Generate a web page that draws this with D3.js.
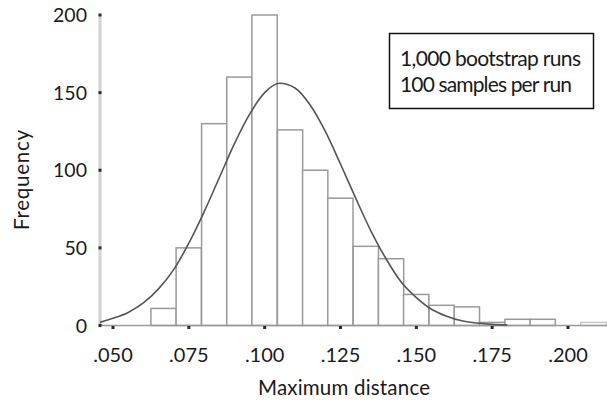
<!DOCTYPE html>
<html>
<head>
<meta charset="utf-8">
<script src="https://cdn.jsdelivr.net/npm/d3@7"></script>
<style>
  body { margin: 0; background: #fff; }
  svg text { font-family: Lato, "Noto Sans", sans-serif; fill: #1a1a1a; }
</style>
</head>
<body>
<svg id="chart" width="607" height="400"></svg>
<script>
// histogram bins (lower edges) and counts
const binStarts = [0.0625, 0.0708, 0.0792, 0.0875, 0.0958, 0.1042, 0.1125, 0.1208, 0.1292,
                   0.1375, 0.1458, 0.1542, 0.1625, 0.1708, 0.1792, 0.1875, 0.1958, 0.2042];
const binWidth = 0.00833;
const counts = [11, 50, 130, 160, 200, 126, 100, 82, 51, 43, 20, 13, 12, 2, 4, 4, 0, 2];

// fitted curve
const curveX = [0.0457, 0.050, 0.055, 0.060, 0.065, 0.070, 0.075, 0.080, 0.085, 0.090, 0.095,
                0.100, 0.105, 0.110, 0.115, 0.120, 0.125, 0.130, 0.135, 0.140, 0.145, 0.150,
                0.155, 0.160, 0.165, 0.170, 0.175, 0.180];
const curveY = [2, 4.6, 8.4, 14.5, 23.6, 36, 53, 73, 95, 117, 136,
                150, 156, 153, 142, 125, 104, 82, 61, 43, 28, 18,
                10.5, 6, 3, 1.6, 0.7, 0.3];

const xTicks = [0.050, 0.075, 0.100, 0.125, 0.150, 0.175, 0.200];
const yTicks = [0, 50, 100, 150, 200];
const legendLines = ["1,000 bootstrap runs", "100 samples per run"];

const svg = d3.select("#chart");

const x = d3.scaleLinear().domain([0.05, 0.2]).range([113, 568]);
const y = d3.scaleLinear().domain([0, 200]).range([325.5, 15]);
const xLeft = 100, xRight = 607;

// y axis line (light, thick)
svg.append("line")
    .attr("x1", xLeft).attr("x2", xLeft)
    .attr("y1", y(200)).attr("y2", y(0))
    .attr("stroke", "#d2d2d2").attr("stroke-width", 3);

// bars
svg.selectAll("rect.bar")
    .data(counts)
    .enter().append("rect")
    .attr("class", "bar")
    .attr("x", (d, i) => x(binStarts[i]))
    .attr("y", d => y(d))
    .attr("width", (d, i) => x(binStarts[i] + binWidth) - x(binStarts[i]))
    .attr("height", d => y(0) - y(d))
    .attr("fill", "#fff")
    .attr("stroke", (d, i) => i == counts.length - 1 ? "#c8c8c8" : "#9a9a9a")
    .attr("stroke-width", 1.5);

// x axis line
svg.append("line")
    .attr("x1", xLeft).attr("x2", xRight)
    .attr("y1", y(0)).attr("y2", y(0))
    .attr("stroke", "#9a9a9a").attr("stroke-width", 1.5);

// normal curve
const line = d3.line()
    .x((d, i) => x(curveX[i]))
    .y(d => y(d))
    .curve(d3.curveMonotoneX);

svg.append("path")
    .attr("d", line(curveY))
    .attr("fill", "none")
    .attr("stroke", "#555")
    .attr("stroke-width", 1.6);

// tick dots
svg.selectAll("rect.ytick")
    .data(yTicks)
    .enter().append("rect")
    .attr("class", "ytick")
    .attr("x", xLeft - 1.5).attr("y", d => y(d) - 1.5)
    .attr("width", 3).attr("height", 3)
    .attr("fill", "#2a2a2a");

svg.selectAll("rect.xtick")
    .data(xTicks)
    .enter().append("rect")
    .attr("class", "xtick")
    .attr("x", d => x(d) - 1.5).attr("y", y(0) + 0.5)
    .attr("width", 3).attr("height", 3)
    .attr("fill", "#2a2a2a");

// tick labels
svg.selectAll("text.ylab")
    .data(yTicks)
    .enter().append("text")
    .attr("class", "ylab")
    .attr("x", 87).attr("y", d => y(d))
    .attr("dy", "0.36em")
    .attr("text-anchor", "end")
    .style("font-size", "19.5px")
    .text(d => d);

svg.selectAll("text.xlab")
    .data(xTicks)
    .enter().append("text")
    .attr("class", "xlab")
    .attr("x", d => x(d)).attr("y", 362)
    .attr("text-anchor", "middle")
    .style("font-size", "20px")
    .text(d => d3.format(".3f")(d).replace(/^0/, ""));

// axis titles
svg.append("text")
    .attr("x", 344).attr("y", 395)
    .attr("text-anchor", "middle")
    .attr("textLength", 172)
    .style("font-size", "20.5px")
    .text("Maximum distance");

svg.append("text")
    .attr("transform", "translate(29, 180) rotate(-90)")
    .attr("text-anchor", "middle")
    .attr("textLength", 100)
    .style("font-size", "20.5px")
    .text("Frequency");

// legend box
svg.append("rect")
    .attr("x", 389.5).attr("y", 33.5)
    .attr("width", 204).attr("height", 75)
    .attr("fill", "#fff")
    .attr("stroke", "#111").attr("stroke-width", 1.5);

svg.selectAll("text.leg")
    .data(legendLines)
    .enter().append("text")
    .attr("class", "leg")
    .attr("x", 400).attr("y", (d, i) => 66 + i * 26)
    .attr("textLength", (d, i) => i == 0 ? 181 : 172)
    .style("font-size", "21px")
    .text(d => d);
</script>
</body>
</html>
